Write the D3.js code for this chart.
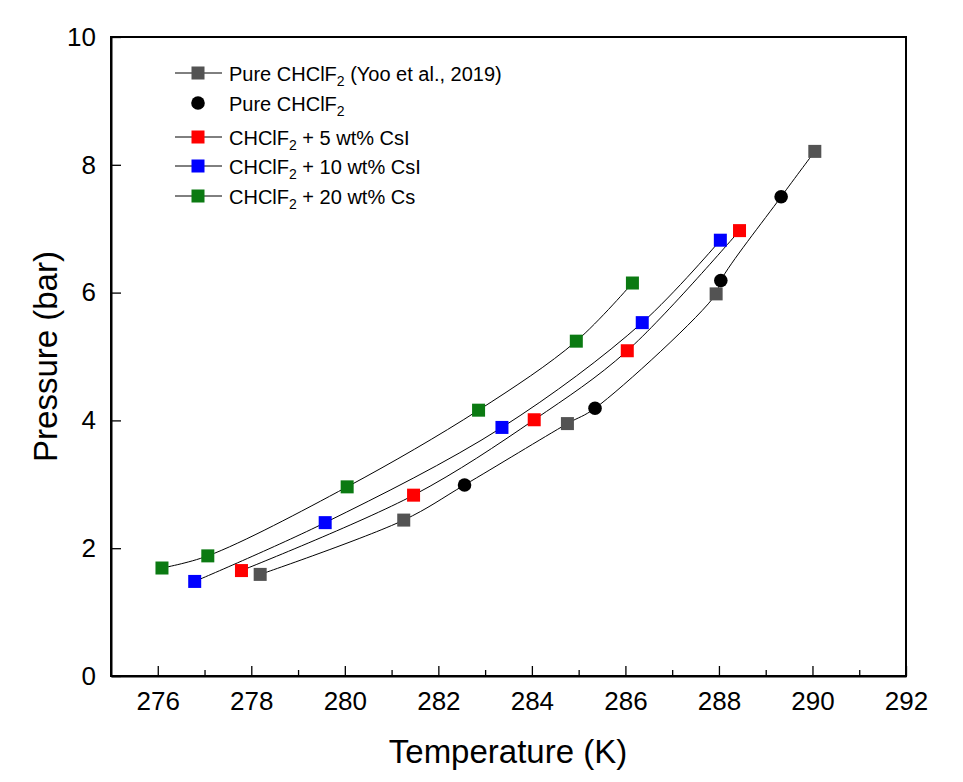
<!DOCTYPE html>
<html><head><meta charset="utf-8">
<script src="https://cdn.jsdelivr.net/npm/d3@7"></script>
<style>body{margin:0;background:#fff}svg{display:block}text{font-family:"Liberation Sans",Arial,sans-serif;fill:#000}</style>
</head><body><svg id="c" width="963" height="782"></svg>
<script>
// Data
const yooT = [278.19, 281.26, 284.76, 287.94, 290.05];
const yooP = [1.59, 2.44, 3.95, 5.98, 8.21];
const pureT = [282.56, 285.35, 288.04, 289.33];
const pureP = [2.99, 4.19, 6.19, 7.50];
const cs5T = [277.79, 281.47, 284.05, 286.04, 288.44];
const cs5P = [1.65, 2.83, 4.01, 5.09, 6.97];
const cs10T = [276.79, 279.58, 283.36, 286.36, 288.03];
const cs10P = [1.48, 2.40, 3.89, 5.53, 6.82];
const cs20T = [276.09, 277.07, 280.05, 282.86, 284.95, 286.15];
const cs20P = [1.69, 1.88, 2.96, 4.16, 5.24, 6.15];
const xTicks = [276, 278, 280, 282, 284, 286, 288, 290, 292];
const xMinor = [277, 279, 281, 283, 285, 287, 289, 291];
const yTicks = [0, 2, 4, 6, 8, 10];
const legendLabels = [
  ["Pure CHClF", "2", " (Yoo et al., 2019)"],
  ["Pure CHClF", "2", ""],
  ["CHClF", "2", " + 5 wt% CsI"],
  ["CHClF", "2", " + 10 wt% CsI"],
  ["CHClF", "2", " + 20 wt% Cs"]
];

const svg = d3.select("#c");
const L = 111, R = 906, T = 37, B = 676;
const x = d3.scaleLinear().domain([275, 292]).range([L, R]);
const y = d3.scaleLinear().domain([0, 10]).range([B, T]);

const zip = (a, b) => a.map((v, i) => [v, b[i]]);
const series = [
  {pts: zip(yooT, yooP), color: "#535353", shape: "sq", line: true},
  {pts: zip(pureT, pureP), color: "#000", shape: "ci", line: false},
  {pts: zip(cs5T, cs5P), color: "#ff0000", shape: "sq", line: true},
  {pts: zip(cs10T, cs10P), color: "#0000ff", shape: "sq", line: true},
  {pts: zip(cs20T, cs20P), color: "#0b7a12", shape: "sq", line: true}
];

// frame
svg.append("rect").attr("x", L).attr("y", T).attr("width", R - L).attr("height", B - T)
  .attr("fill", "none").attr("stroke", "#000").attr("stroke-width", 2);

// axes
const xa = svg.append("g").attr("transform", `translate(0,${B})`)
  .call(d3.axisBottom(x).tickValues(xTicks).tickSizeInner(-10).tickSizeOuter(0).tickPadding(16));
xa.select(".domain").attr("stroke-width", 2);
xa.selectAll(".tick line").attr("stroke-width", 1.3);
xa.selectAll("text").style("font-size", "26px").attr("font-family", "Liberation Sans, Arial, sans-serif");
const xm = svg.append("g").attr("transform", `translate(0,${B})`)
  .call(d3.axisBottom(x).tickValues(xMinor).tickSizeInner(-6).tickSizeOuter(0).tickFormat(""));
xm.select(".domain").remove();
xm.selectAll(".tick line").attr("stroke-width", 1.3);

const ya = svg.append("g").attr("transform", `translate(${L},0)`)
  .call(d3.axisLeft(y).tickValues(yTicks).tickSizeInner(-10).tickSizeOuter(0).tickPadding(15));
ya.select(".domain").attr("stroke-width", 2);
ya.selectAll(".tick line").attr("stroke-width", 1.3);
ya.selectAll("text").style("font-size", "26px").attr("font-family", "Liberation Sans, Arial, sans-serif");

// titles
svg.append("text").attr("x", 508).attr("y", 763).attr("text-anchor", "middle")
  .style("font-size", "33px").text("Temperature (K)");
svg.append("text").attr("transform", `translate(57,${(T + B) / 2}) rotate(-90)`).attr("text-anchor", "middle")
  .style("font-size", "33px").text("Pressure (bar)");

// lines
const lineGen = d3.line().x(d => x(d[0])).y(d => y(d[1])).curve(d3.curveCatmullRom.alpha(0.5));
const pureAll = series[0].pts.concat(series[1].pts).sort((a, b) => a[0] - b[0]);
svg.append("path").attr("d", lineGen(pureAll)).attr("fill", "none").attr("stroke", "#000").attr("stroke-width", 1);
series.slice(2).forEach(s => {
  svg.append("path").attr("d", lineGen(s.pts)).attr("fill", "none").attr("stroke", "#000").attr("stroke-width", 1);
});

// markers
function marker(g, s, cx, cy) {
  if (s.shape === "sq") {
    g.append("rect").attr("x", cx - 6.5).attr("y", cy - 6.5).attr("width", 13).attr("height", 13).attr("fill", s.color);
  } else {
    g.append("circle").attr("cx", cx).attr("cy", cy).attr("r", 6.8).attr("fill", s.color);
  }
}
series.forEach(s => {
  const g = svg.append("g");
  s.pts.forEach(p => marker(g, s, x(p[0]), y(p[1])));
});

// legend
const rowY = [73, 103, 137, 166, 196];
series.forEach((s, i) => {
  const cy = rowY[i];
  const g = svg.append("g");
  if (s.line) {
    g.append("line").attr("x1", 175).attr("x2", 222).attr("y1", cy).attr("y2", cy).attr("stroke", "#000").attr("stroke-width", 1);
  }
  marker(g, s, 198, cy);
  const t = g.append("text").attr("x", 229).attr("y", cy + 7.5).style("font-size", "20px");
  const lab = legendLabels[i];
  t.append("tspan").text(lab[0]);
  t.append("tspan").attr("dy", 5).style("font-size", "14px").text(lab[1]);
  if (lab[2]) t.append("tspan").attr("dy", -5).text(lab[2]);
});
</script></body></html>
